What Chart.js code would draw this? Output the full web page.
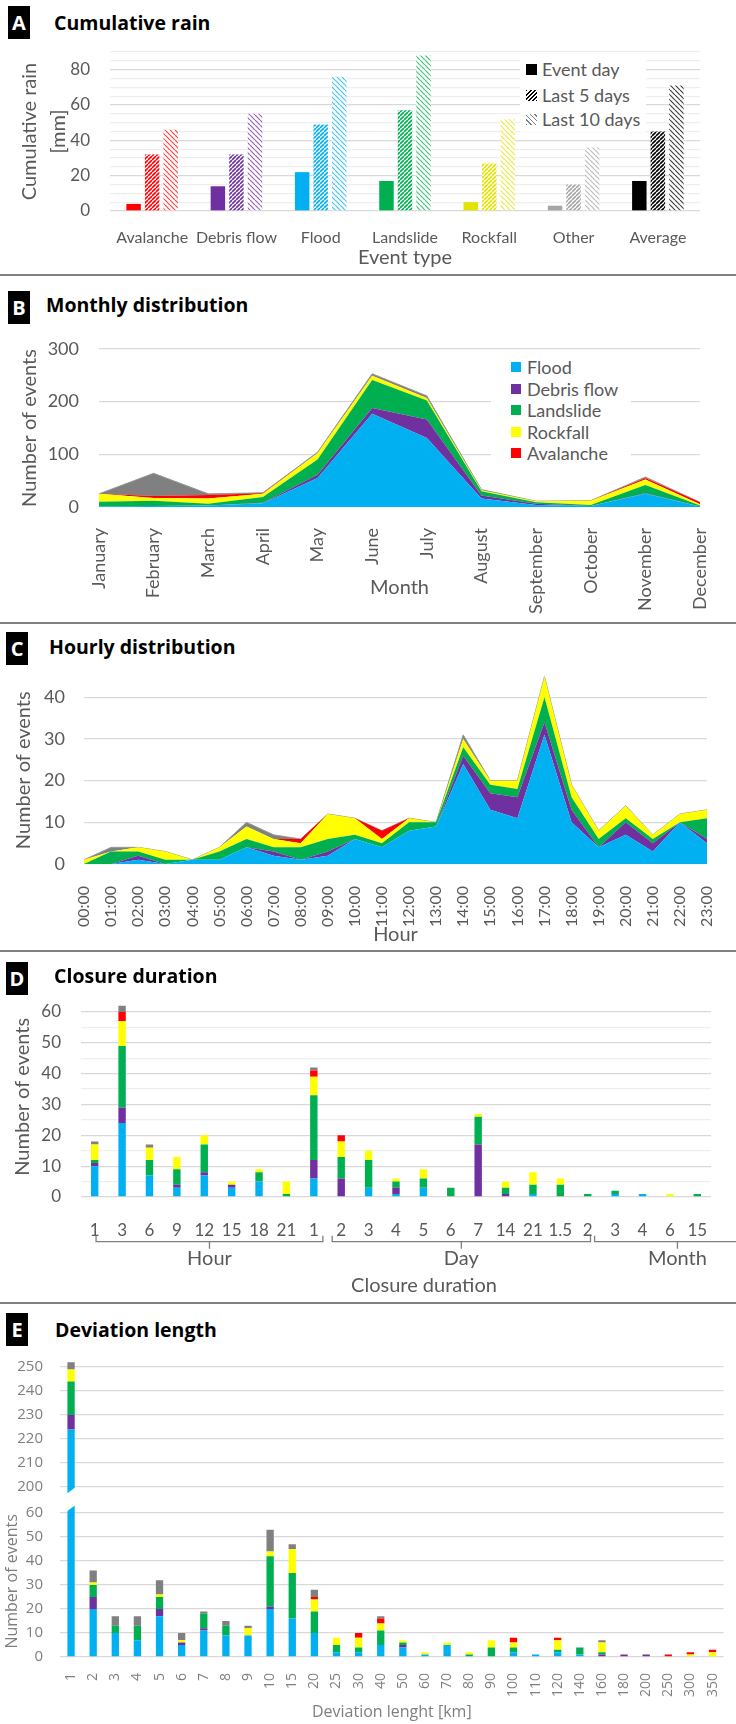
<!DOCTYPE html>
<html>
<head>
<meta charset="utf-8">
<script src="https://cdn.jsdelivr.net/npm/chart.js@4.4.1/dist/chart.umd.min.js"></script>
<style>
  body { margin: 0; background: #fff; }
  #page { position: relative; width: 736px; height: 1724px; overflow: hidden; background: #fff; font-family: Lato, sans-serif; }
  .sep { position: absolute; left: 0; width: 736px; height: 2px; background: #808080; }
  .tag { position: absolute; width: 22px; height: 33px; background: #000; color: #fff; font: 700 20px 'Open Sans', sans-serif; text-align: center; line-height: 33px; }
  .ttl { position: absolute; font: 700 19.5px 'Open Sans', sans-serif; color: #000; line-height: 24px; white-space: nowrap; }
  canvas { position: absolute; left: 0; }
  .lg { position: absolute; background: #fff; }
  .lg span { position: absolute; white-space: nowrap; color: #595959; font: 18px Lato, sans-serif; line-height: 22px; }
  .lg i { position: absolute; display: block; }
</style>
</head>
<body>
<div id="page">
  <div class="tag" style="left:8px;top:6px">A</div>
  <div class="ttl" style="left:54px;top:11px">Cumulative rain</div>
  <canvas id="cA" width="736" height="235" style="top:40px"></canvas>
  <div class="lg" id="lgA" style="left:520px;top:56px;width:126px;height:76px"></div>
  <div class="sep" style="top:274px"></div>

  <div class="tag" style="left:8px;top:291px">B</div>
  <div class="ttl" style="left:46px;top:293px">Monthly distribution</div>
  <canvas id="cB" width="736" height="293" style="top:330px"></canvas>
  <div class="lg" id="lgB" style="left:491px;top:356px;width:140px;height:108px"></div>
  <div class="sep" style="top:622px"></div>

  <div class="tag" style="left:6px;top:632px">C</div>
  <div class="ttl" style="left:49px;top:635px">Hourly distribution</div>
  <canvas id="cC" width="736" height="291" style="top:660px"></canvas>
  <div class="sep" style="top:950px"></div>

  <canvas id="cD" width="736" height="318" style="top:985px"></canvas>
  <div class="tag" style="left:6px;top:962px">D</div>
  <div class="ttl" style="left:54px;top:964px">Closure duration</div>
  <div class="sep" style="top:1302px"></div>

  <div class="tag" style="left:6px;top:1313px">E</div>
  <div class="ttl" style="left:55px;top:1318px">Deviation length</div>
  <canvas id="cE1" width="736" height="145" style="top:1350px"></canvas>
  <canvas id="cE2" width="736" height="227" style="top:1497px"></canvas>
</div>

<script>
// ---- data ----
const rainCats = ['Avalanche', 'Debris flow', 'Flood', 'Landslide', 'Rockfall', 'Other', 'Average'];
const rainSeries = ['Event day', 'Last 5 days', 'Last 10 days'];
const rainEventDay = [4, 14, 22, 17, 5, 3, 17];
const rainLast5 = [32, 32, 49, 57, 27, 15, 45];
const rainLast10 = [46, 55, 76, 88, 52, 36, 71];
const rainTicks = [0, 5, 10, 15, 20, 25, 30, 35, 40, 45, 50, 55, 60, 65, 70, 75, 80, 85, 90];
const rainLabels = [0, 20, 40, 60, 80];

const hazardNames = ['Flood', 'Debris flow', 'Landslide', 'Rockfall', 'Avalanche', 'Other'];

const months = ['January', 'February', 'March', 'April', 'May', 'June', 'July', 'August', 'September', 'October', 'November', 'December'];
const monthFlood = [1, 2, 3, 7, 55, 177, 131, 16, 4, 2, 25, 1];
const monthDebris = [0, 0, 0, 1, 6, 11, 35, 6, 2, 0, 1, 0];
const monthLandslide = [9, 10, 3, 11, 29, 53, 36, 8, 3, 2, 16, 2];
const monthRockfall = [15, 5, 10, 6, 12, 8, 5, 2, 2, 8, 10, 2];
const monthAvalanche = [0, 4, 7, 1, 0, 0, 0, 0, 0, 0, 3, 4];
const monthOther = [0, 43, 2, 1, 2, 4, 4, 1, 0, 0, 2, 0];
const monthTicks = [0, 100, 200, 300];

const hours = ['00:00', '01:00', '02:00', '03:00', '04:00', '05:00', '06:00', '07:00', '08:00', '09:00', '10:00', '11:00',
  '12:00', '13:00', '14:00', '15:00', '16:00', '17:00', '18:00', '19:00', '20:00', '21:00', '22:00', '23:00'];
const hourFlood = [0, 0, 1, 0, 1, 1, 4, 2, 1, 2, 6, 4, 8, 9, 24, 13, 11, 31, 10, 4, 7, 3, 10, 5];
const hourDebris = [0, 0, 1, 0, 0, 0, 0, 1, 0, 1, 0, 0, 0, 0, 2, 4, 5, 3, 3, 0, 3, 2, 0, 1];
const hourLandslide = [0, 3, 1, 1, 0, 2, 2, 1, 3, 3, 1, 1, 2, 1, 2, 2, 2, 6, 3, 2, 1, 1, 0, 5];
const hourRockfall = [1, 0, 1, 2, 0, 1, 3, 2, 1, 6, 4, 1, 1, 0, 2, 1, 2, 5, 3, 2, 3, 1, 2, 2];
const hourAvalanche = [0, 0, 0, 0, 0, 0, 0, 0, 1, 0, 0, 2, 0, 0, 0, 0, 0, 0, 0, 0, 0, 0, 0, 0];
const hourOther = [0, 1, 0, 0, 0, 0, 1, 1, 0, 0, 0, 0, 0, 0, 1, 0, 0, 0, 0, 0, 0, 0, 0, 0];
const hourTicks = [0, 10, 20, 30, 40];

const closureCats = ['1', '3', '6', '9', '12', '15', '18', '21', '1', '2', '3', '4', '5', '6', '7', '14', '21', '1.5', '2', '3', '4', '6', '15'];
const closureFlood = [10, 24, 7, 3, 7, 3, 5, 0, 6, 0, 3, 1, 3, 0, 0, 0, 1, 0, 0, 1, 1, 0, 0];
const closureDebris = [1, 5, 0, 1, 1, 1, 0, 0, 6, 6, 0, 2, 0, 0, 17, 1, 0, 0, 0, 0, 0, 0, 0];
const closureLandslide = [1, 20, 5, 5, 9, 0, 3, 1, 21, 7, 9, 2, 3, 3, 9, 2, 3, 4, 1, 1, 0, 0, 1];
const closureRockfall = [5, 8, 4, 4, 3, 1, 1, 4, 6, 5, 3, 1, 3, 0, 1, 2, 4, 2, 0, 0, 0, 1, 0];
const closureAvalanche = [0, 3, 0, 0, 0, 0, 0, 0, 2, 2, 0, 0, 0, 0, 0, 0, 0, 0, 0, 0, 0, 0, 0];
const closureOther = [1, 2, 1, 0, 0, 0, 0, 0, 1, 0, 0, 0, 0, 0, 0, 0, 0, 0, 0, 0, 0, 0, 0];
const closureTicks = [0, 5, 10, 15, 20, 25, 30, 35, 40, 45, 50, 55, 60];
const closureLabels = [0, 10, 20, 30, 40, 50, 60];
const closureGroups = [
  { label: 'Hour', from: 0.05, to: 8.33 },
  { label: 'Day', from: 8.67, to: 18.1 },
  { label: 'Month', from: 18.25, to: 24.3 }
];

const devCats = ['1', '2', '3', '4', '5', '6', '7', '8', '9', '10', '15', '20', '25', '30', '40', '50', '60', '70', '80', '90',
  '100', '110', '120', '140', '160', '180', '200', '250', '300', '350'];
const devFlood = [224, 20, 10, 7, 17, 5, 11, 9, 9, 20, 16, 10, 2, 2, 5, 4, 1, 5, 0, 0, 2, 1, 2, 1, 0, 0, 0, 0, 0, 0];
const devDebris = [6, 5, 0, 0, 3, 1, 1, 0, 0, 1, 0, 0, 0, 0, 0, 1, 0, 0, 0, 0, 0, 0, 0, 0, 1, 1, 1, 0, 0, 0];
const devLandslide = [14, 5, 3, 6, 5, 0, 6, 4, 0, 21, 19, 9, 3, 2, 6, 1, 0, 0, 1, 4, 2, 0, 1, 3, 1, 0, 0, 0, 0, 0];
const devRockfall = [5, 1, 0, 0, 1, 1, 0, 0, 3, 2, 10, 5, 3, 4, 3, 1, 1, 1, 1, 3, 2, 0, 4, 0, 4, 0, 0, 0, 1, 2];
const devAvalanche = [0, 0, 0, 0, 0, 0, 0, 0, 0, 0, 0, 1, 0, 2, 2, 0, 0, 0, 0, 0, 2, 0, 1, 0, 0, 0, 0, 1, 1, 1];
const devOther = [3, 5, 4, 4, 6, 3, 1, 2, 1, 9, 2, 3, 0, 0, 1, 0, 0, 0, 0, 0, 0, 0, 0, 0, 1, 0, 0, 0, 0, 0];
const devTicksTop = [200, 210, 220, 230, 240, 250];
const devTicksBottom = [0, 10, 20, 30, 40, 50, 60];

// ---- styles ----
const rainColors = ['#FF0000', '#7030A0', '#00B0F0', '#00B050', '#E3E300', '#A6A6A6', '#000000'];
const hazardColors = ['#00B0F0', '#7030A0', '#00B050', '#FFFF00', '#FF0000', '#808080'];
const gray = '#595959';
const gridMajor = '#D9D9D9';
const gridMinor = '#EEEEEE';

Chart.defaults.font.family = 'Lato, sans-serif';
Chart.defaults.color = gray;
Chart.defaults.animation = false;
Chart.defaults.responsive = false;
Chart.defaults.plugins.legend.display = false;
Chart.defaults.plugins.tooltip.enabled = false;

// diagonal hatch fill, dir 1 = "/", dir -1 = "\"
function hatch(color, dir) {
  const n = dir > 0 ? 4 : 5;
  const c = document.createElement('canvas');
  c.width = c.height = n;
  const g = c.getContext('2d');
  g.fillStyle = '#fff';
  g.fillRect(0, 0, n, n);
  g.strokeStyle = color;
  g.lineWidth = dir > 0 ? 1.6 : 1.2;
  g.globalAlpha = dir > 0 ? 1 : 0.75;
  g.beginPath();
  for (let k = -1; k <= 1; k++) {
    if (dir > 0) { g.moveTo(k * n, n); g.lineTo(k * n + n, 0); }
    else { g.moveTo(k * n, 0); g.lineTo(k * n + n, n); }
  }
  g.stroke();
  return g.createPattern(c, 'repeat');
}

// value axis: fixed ticks, fixed width, no extra edge padding
function valueAxis(o) {
  return {
    min: o.min, max: o.max, stacked: !!o.stacked,
    afterBuildTicks: s => { s.ticks = o.ticks.map(v => ({ value: v })); },
    afterFit: s => { s.width = o.width; s.paddingTop = 0; s.paddingBottom = 0; },
    ticks: {
      autoSkip: false, padding: o.pad, color: o.color || gray,
      font: { size: o.size, family: o.family || 'Lato, sans-serif' },
      callback: v => (o.labels || o.ticks).includes(v) ? v : ''
    },
    grid: {
      drawTicks: false, lineWidth: 1.3,
      color: c => (o.labels || o.ticks).includes(c.tick.value) ? gridMajor : gridMinor
    },
    border: { display: false },
    title: o.title ? {
      display: true, text: o.title, color: o.color || gray,
      font: { size: o.titleSize || 20, family: o.family || 'Lato, sans-serif', lineHeight: o.titleLh || 1.2 },
      padding: { top: o.titlePad, bottom: 0 }
    } : { display: false }
  };
}

function catAxis(o) {
  return {
    stacked: !!o.stacked, offset: o.offset, display: o.display !== false,
    afterFit: s => { s.height = o.height; s.paddingLeft = 0; s.paddingRight = 0; },
    grid: { display: false }, border: { display: false },
    ticks: {
      autoSkip: false, padding: o.pad, color: o.color || gray,
      maxRotation: o.rot || 0, minRotation: o.rot || 0,
      font: { size: o.size, family: o.family || 'Lato, sans-serif' }
    },
    title: o.title ? {
      display: true, text: o.title, color: o.color || gray,
      font: { size: o.titleSize || 20, family: o.family || 'Lato, sans-serif', lineHeight: 1.2 },
      padding: { top: 0, bottom: o.titlePad }
    } : { display: false }
  };
}

function areaSets(series) {
  return series.map((data, i) => ({
    label: hazardNames[i], data,
    backgroundColor: hazardColors[i],
    borderColor: i === 5 ? '#999999' : hazardColors[i],
    borderWidth: i === 5 ? 1 : 0,
    pointRadius: 0, tension: 0,
    fill: i === 0 ? 'origin' : '-1'
  }));
}

function barSets(series, bp) {
  return series.map((data, i) => ({
    label: hazardNames[i], data,
    backgroundColor: hazardColors[i],
    borderWidth: 0, barPercentage: bp, categoryPercentage: 1
  }));
}

// ---- A: cumulative rain ----
new Chart(document.getElementById('cA'), {
  type: 'bar',
  data: {
    labels: rainCats,
    datasets: [
      { label: rainSeries[0], data: rainEventDay, backgroundColor: rainColors },
      { label: rainSeries[1], data: rainLast5, backgroundColor: rainColors.map(c => hatch(c, 1)) },
      { label: rainSeries[2], data: rainLast10, backgroundColor: rainColors.map(c => hatch(c, -1)) }
    ].map(d => Object.assign(d, { barPercentage: 0.78, categoryPercentage: 0.66, borderWidth: 0 }))
  },
  options: {
    layout: { padding: { top: 12, right: 36, left: 0, bottom: 0 } },
    scales: {
      x: catAxis({ offset: true, height: 64, pad: 9, size: 16, title: 'Event type', titlePad: 5 }),
      y: valueAxis({ min: 0, max: 90, ticks: rainTicks, labels: rainLabels, width: 110, pad: 20, size: 17,
        title: ['Cumulative rain', '[mm]'], titleLh: 1.45, titlePad: 15.5 })
    }
  }
});

// legend A
(function () {
  const lg = document.getElementById('lgA');
  const sw = [
    'background:#000',
    'background:repeating-linear-gradient(135deg,#000 0 1.4px,#fff 1.4px 2.9px)',
    'background:repeating-linear-gradient(45deg,#7f7f7f 0 1.1px,#fff 1.1px 3.3px)'
  ];
  const rows = [13, 39, 63];
  rainSeries.forEach((name, i) => {
    lg.insertAdjacentHTML('beforeend',
      `<i style="left:6px;top:${rows[i] - 5.5}px;width:11px;height:11px;${sw[i]}"></i>` +
      `<span style="left:22px;top:${rows[i] - 11}px">${name}</span>`);
  });
})();

// ---- B: monthly distribution ----
new Chart(document.getElementById('cB'), {
  type: 'line',
  data: {
    labels: months,
    datasets: areaSets([monthFlood, monthDebris, monthLandslide, monthRockfall, monthAvalanche, monthOther])
  },
  options: {
    layout: { padding: { top: 19, right: 36, left: 0, bottom: 0 } },
    scales: {
      x: catAxis({ offset: false, height: 116, pad: 13, size: 18, rot: 90, title: 'Month', titlePad: 23 }),
      y: valueAxis({ min: 0, max: 300, stacked: true, ticks: monthTicks, width: 99, pad: 20, size: 18,
        title: 'Number of events', titlePad: 18 })
    }
  }
});

// legend B (Flood .. Avalanche)
(function () {
  const lg = document.getElementById('lgB');
  const rows = [11, 33, 54, 76, 97];
  hazardNames.slice(0, 5).forEach((name, i) => {
    lg.insertAdjacentHTML('beforeend',
      `<i style="left:20px;top:${rows[i] - 5}px;width:10px;height:10px;background:${hazardColors[i]}"></i>` +
      `<span style="left:36px;top:${rows[i] - 11}px">${name}</span>`);
  });
})();

// ---- C: hourly distribution ----
new Chart(document.getElementById('cC'), {
  type: 'line',
  data: {
    labels: hours,
    datasets: areaSets([hourFlood, hourDebris, hourLandslide, hourRockfall, hourAvalanche, hourOther])
  },
  options: {
    layout: { padding: { top: 16.5, right: 29, left: 0, bottom: 0 } },
    scales: {
      x: catAxis({ offset: false, height: 87, pad: 14, size: 16, rot: 90, title: 'Hour', titlePad: 4 }),
      y: valueAxis({ min: 0, max: 45, stacked: true, ticks: hourTicks, width: 84, pad: 19, size: 18,
        title: 'Number of events', titlePad: 12 })
    }
  }
});

// ---- D: closure duration ----
const closureBrackets = {
  id: 'closureBrackets',
  afterDraw(chart) {
    const { ctx, chartArea, scales: { x } } = chart;
    const yLine = chartArea.bottom + 44.7;
    ctx.save();
    ctx.strokeStyle = '#7F7F7F';
    ctx.lineWidth = 1.3;
    ctx.fillStyle = gray;
    ctx.font = '20px Lato, sans-serif';
    ctx.textAlign = 'center';
    ctx.textBaseline = 'middle';
    closureGroups.forEach(g => {
      const a = x.getPixelForValue(g.from);
      const b = x.getPixelForValue(g.to);
      const m = (a + b) / 2;
      ctx.beginPath();
      ctx.moveTo(a, yLine - 6); ctx.lineTo(a, yLine); ctx.lineTo(b, yLine); ctx.lineTo(b, yLine - 6);
      ctx.moveTo(m, yLine); ctx.lineTo(m, yLine + 7);
      ctx.stroke();
      ctx.fillText(g.label, m, yLine + 17.3);
    });
    ctx.fillText('Closure duration', (chartArea.left + chartArea.right) / 2 + 28, yLine + 44.3);
    ctx.restore();
  }
};

new Chart(document.getElementById('cD'), {
  type: 'bar',
  data: {
    labels: closureCats,
    datasets: barSets([closureFlood, closureDebris, closureLandslide, closureRockfall, closureAvalanche, closureOther], 0.27)
  },
  options: {
    layout: { padding: { top: 11.6, right: 25, left: 0, bottom: 0 } },
    scales: {
      x: catAxis({ offset: true, stacked: true, height: 106, pad: 15, size: 17 }),
      y: valueAxis({ min: 0, max: 65, stacked: true, ticks: closureTicks, labels: closureLabels, width: 81, pad: 20, size: 17,
        title: 'Number of events', titlePad: 11 })
    }
  },
  plugins: [closureBrackets]
});

// ---- E: deviation length (broken axis: two stacked panels) ----
const breakCut = {
  id: 'breakCut',
  afterDatasetsDraw(chart, args, opts) {
    const bar = chart.getDatasetMeta(0).data[0];
    const { ctx, chartArea } = chart;
    const l = bar.x - bar.width / 2 - 1;
    const r = bar.x + bar.width / 2 + 1;
    ctx.save();
    ctx.fillStyle = '#fff';
    ctx.beginPath();
    if (opts.edge === 'top') {
      const y = chartArea.top;
      ctx.moveTo(l, y - 1); ctx.lineTo(r, y - 1); ctx.lineTo(l, y + 6);
    } else {
      const y = chartArea.bottom;
      ctx.moveTo(l, y + 1); ctx.lineTo(r, y + 1); ctx.lineTo(r, y - 6);
    }
    ctx.closePath();
    ctx.fill();
    ctx.restore();
  }
};

const eFont = "'Open Sans', sans-serif";
const eGray = '#7F7F7F';
const devSeries = [devFlood, devDebris, devLandslide, devRockfall, devAvalanche, devOther];

new Chart(document.getElementById('cE1'), {
  type: 'bar',
  data: { labels: devCats, datasets: barSets(devSeries, 0.33) },
  options: {
    layout: { padding: { top: 7.4, right: 12.4, left: 0, bottom: 2 } },
    plugins: { breakCut: { edge: 'bottom' } },
    scales: {
      x: catAxis({ offset: true, stacked: true, display: false, height: 0 }),
      y: valueAxis({ min: 197.5, max: 254, stacked: true, ticks: devTicksTop, width: 60, pad: 17, size: 15,
        color: eGray, family: eFont })
    }
  },
  plugins: [breakCut]
});

new Chart(document.getElementById('cE2'), {
  type: 'bar',
  data: { labels: devCats, datasets: barSets(devSeries, 0.33) },
  options: {
    layout: { padding: { top: 8.8, right: 12.4, left: 0, bottom: 0 } },
    plugins: { breakCut: { edge: 'top' } },
    scales: {
      x: catAxis({ offset: true, stacked: true, height: 67, pad: 8, size: 14, rot: 90, color: eGray, family: eFont,
        title: 'Deviation lenght [km]', titleSize: 16, titlePad: 2.4 }),
      y: valueAxis({ min: 0, max: 63, stacked: true, ticks: devTicksBottom, width: 60, pad: 17, size: 15,
        color: eGray, family: eFont, title: 'Number of events', titleSize: 16, titlePad: 2.4 })
    }
  },
  plugins: [breakCut]
});
</script>
</body>
</html>
